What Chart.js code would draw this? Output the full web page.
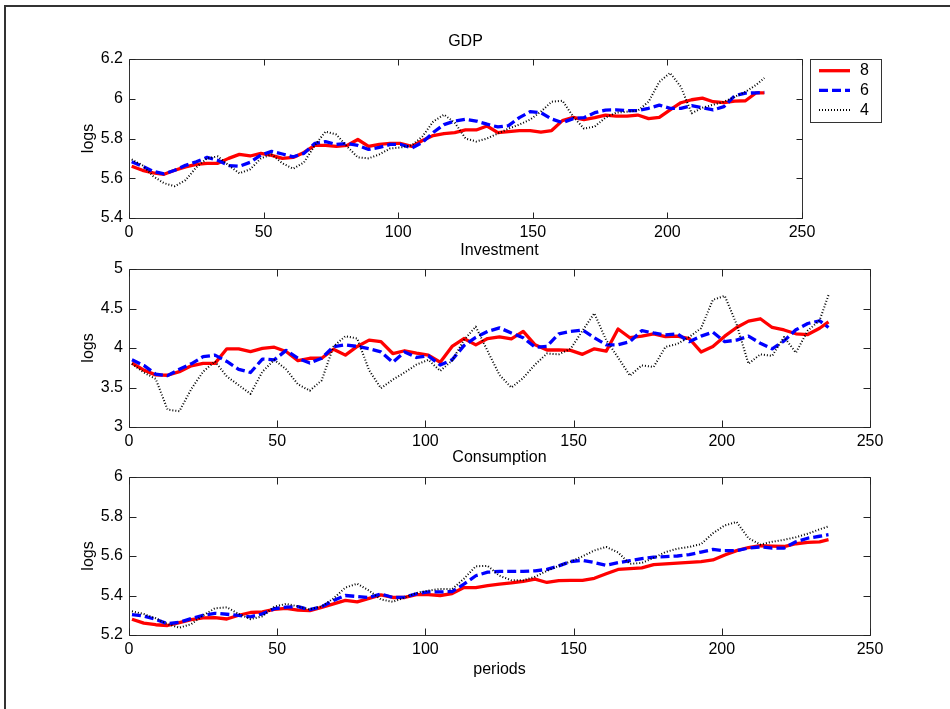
<!DOCTYPE html>
<html><head><meta charset="utf-8">
<script src="https://cdn.jsdelivr.net/npm/chart.js@4/dist/chart.umd.min.js"></script>
<style>
html,body{margin:0;padding:0;background:#fff;}
#page{position:relative;width:950px;height:709px;overflow:hidden;background:#fff;}
.frame{position:absolute;left:4px;top:5px;width:1000px;height:800px;border-left:2px solid #333;border-top:2px solid #333;}
canvas{position:absolute;left:0;top:0;}
</style></head><body>
<div id="page"><div class="frame"></div>
<canvas id="c1" width="950" height="709"></canvas>
<canvas id="c2" width="950" height="709"></canvas>
<canvas id="c3" width="950" height="709"></canvas>
</div>
<script>
const periods = [1,5,9,13,17,21,25,29,33,37,41,45,49,53,57,61,65,69,73,77,81,85,89,93,97,101,105,109,113,117,121,125,129,133,137,141,145,149,153,157,161,165,169,173,177,181,185,189,193,197,201,205,209,213,217,221,225,229,233,236];
const seriesNames = ['8','6','4'];

const gdp8 = [5.66,5.64,5.627,5.62,5.64,5.657,5.67,5.675,5.675,5.70,5.72,5.712,5.725,5.715,5.70,5.705,5.73,5.765,5.765,5.76,5.765,5.795,5.76,5.77,5.775,5.775,5.76,5.79,5.815,5.825,5.83,5.843,5.843,5.863,5.83,5.835,5.84,5.84,5.832,5.84,5.89,5.906,5.895,5.905,5.918,5.913,5.913,5.918,5.90,5.906,5.944,5.98,5.995,6.003,5.985,5.98,5.988,5.99,6.03,6.03];
const gdp6 = [5.683,5.66,5.635,5.622,5.64,5.665,5.683,5.705,5.69,5.664,5.66,5.68,5.717,5.735,5.722,5.708,5.725,5.775,5.784,5.77,5.775,5.765,5.745,5.755,5.77,5.77,5.752,5.78,5.83,5.87,5.888,5.897,5.888,5.872,5.858,5.865,5.905,5.935,5.93,5.898,5.88,5.90,5.905,5.93,5.943,5.944,5.94,5.94,5.952,5.968,5.952,5.952,5.965,5.955,5.944,5.96,6.015,6.028,6.03,6.032];
const gdp4 = [5.695,5.665,5.61,5.575,5.56,5.59,5.655,5.70,5.71,5.665,5.625,5.645,5.70,5.72,5.675,5.648,5.68,5.765,5.835,5.82,5.76,5.705,5.70,5.72,5.75,5.755,5.765,5.81,5.885,5.92,5.88,5.80,5.785,5.80,5.825,5.85,5.87,5.895,5.935,5.985,5.99,5.91,5.85,5.86,5.905,5.93,5.935,5.94,5.985,6.085,6.13,6.06,5.927,5.955,5.97,5.985,6.01,6.035,6.07,6.104];

const inv8 = [3.81,3.72,3.66,3.655,3.70,3.775,3.805,3.805,3.99,3.99,3.955,3.995,4.01,3.955,3.84,3.87,3.87,3.985,3.91,4.02,4.10,4.08,3.93,3.965,3.935,3.91,3.82,4.02,4.12,4.04,4.12,4.14,4.115,4.21,4.04,3.975,3.975,3.97,3.92,3.99,3.96,4.24,4.13,4.15,4.18,4.143,4.15,4.12,3.95,4.02,4.15,4.26,4.34,4.37,4.26,4.228,4.18,4.17,4.25,4.33];
const inv6 = [3.85,3.78,3.67,3.65,3.73,3.80,3.89,3.91,3.83,3.73,3.69,3.86,3.85,3.97,3.87,3.81,3.87,4.017,4.04,4.02,3.99,3.95,3.82,3.95,3.88,3.90,3.785,3.85,4.03,4.135,4.21,4.255,4.19,4.13,4.01,4.02,4.18,4.21,4.228,4.13,4.04,4.04,4.08,4.22,4.19,4.165,4.18,4.08,4.15,4.20,4.08,4.10,4.15,4.06,3.99,4.09,4.23,4.31,4.345,4.26];
const inv4 = [3.80,3.69,3.61,3.22,3.20,3.48,3.70,3.83,3.64,3.53,3.42,3.70,3.85,3.73,3.54,3.46,3.59,4.02,4.15,4.12,3.72,3.49,3.60,3.69,3.79,3.85,3.71,3.84,4.10,4.27,3.96,3.66,3.50,3.62,3.79,3.93,3.92,3.99,4.22,4.44,4.10,3.88,3.65,3.78,3.76,4.015,4.05,4.14,4.25,4.61,4.66,4.30,3.80,3.92,3.90,4.14,3.94,4.22,4.35,4.67];

const con8 = [5.28,5.26,5.252,5.248,5.263,5.278,5.287,5.288,5.281,5.30,5.314,5.317,5.33,5.335,5.326,5.323,5.34,5.358,5.375,5.368,5.385,5.403,5.39,5.39,5.404,5.404,5.40,5.41,5.44,5.44,5.45,5.458,5.464,5.472,5.483,5.466,5.475,5.477,5.477,5.487,5.51,5.532,5.536,5.54,5.556,5.56,5.564,5.568,5.572,5.58,5.605,5.627,5.643,5.652,5.65,5.648,5.662,5.669,5.672,5.683];
const con6 = [5.303,5.296,5.279,5.257,5.264,5.283,5.30,5.31,5.305,5.299,5.292,5.307,5.333,5.341,5.344,5.328,5.343,5.375,5.40,5.395,5.39,5.408,5.39,5.392,5.409,5.418,5.418,5.42,5.458,5.50,5.518,5.522,5.522,5.522,5.525,5.532,5.55,5.572,5.578,5.567,5.553,5.566,5.576,5.587,5.594,5.597,5.60,5.607,5.62,5.633,5.627,5.627,5.64,5.646,5.64,5.64,5.672,5.69,5.70,5.708];
const con4 = [5.32,5.306,5.285,5.255,5.237,5.255,5.30,5.335,5.34,5.307,5.28,5.295,5.343,5.358,5.345,5.33,5.345,5.385,5.44,5.46,5.425,5.38,5.368,5.39,5.413,5.425,5.433,5.432,5.485,5.548,5.55,5.50,5.477,5.477,5.495,5.525,5.55,5.572,5.598,5.628,5.646,5.618,5.56,5.565,5.59,5.62,5.637,5.646,5.66,5.715,5.755,5.772,5.69,5.658,5.672,5.682,5.695,5.713,5.735,5.75];

const xTicks = [0,50,100,150,200,250];
const xTickLabels = ['0','50','100','150','200','250'];
const gdpTicks = [5.4,5.6,5.8,6,6.2];
const gdpTickLabels = ['5.4','5.6','5.8','6','6.2'];
const invTicks = [3,3.5,4,4.5,5];
const invTickLabels = ['3','3.5','4','4.5','5'];
const conTicks = [5.2,5.4,5.6,5.8,6];
const conTickLabels = ['5.2','5.4','5.6','5.8','6'];
const panelTitles = ['GDP','Investment','Consumption'];
const yTitle = 'logs';
const xTitle = 'periods';

Chart.defaults.font.family = '"Liberation Sans", Arial, sans-serif';
Chart.defaults.font.size = 16;
Chart.defaults.color = '#000';

const styles = [
  {color:'#ff0000', width:3.3, dash:[]},
  {color:'#0000ff', width:3.3, dash:[9,4]},
  {color:'#000000', width:2, dash:[1,2]}
];

const boxPlugin = {
  id:'frameBox',
  afterDatasetsDraw(chart, args, opts){
    const {ctx, chartArea:a, scales:{x,y}} = chart;
    ctx.save();
    const L=Math.round(a.left)+0.5, R=Math.round(a.right)+0.5, T=Math.round(a.top)+0.5, B=Math.round(a.bottom)+0.5;
    ctx.strokeStyle='#333'; ctx.lineWidth=1; ctx.setLineDash([]);
    ctx.beginPath(); ctx.rect(L,T,R-L,B-T); ctx.stroke();
    const tl = opts.tickLen;
    ctx.strokeStyle='#222';
    ctx.beginPath();
    x.ticks.forEach(t=>{const px=Math.round(x.getPixelForValue(t.value))+0.5; ctx.moveTo(px,B); ctx.lineTo(px,B-tl); ctx.moveTo(px,T); ctx.lineTo(px,T+tl);});
    y.ticks.forEach(t=>{const py=Math.round(y.getPixelForValue(t.value))+0.5; ctx.moveTo(L,py); ctx.lineTo(L+tl,py); ctx.moveTo(R,py); ctx.lineTo(R-tl,py);});
    ctx.stroke();
    ctx.fillStyle='#000';
    ctx.font='16px "Liberation Sans", Arial, sans-serif';
    ctx.textAlign='center'; ctx.textBaseline='middle';
    ctx.fillText(opts.title, (a.left+a.right)/2, a.top - opts.titleGap);
    if (opts.legend) {
      const lx=810.5, ly=59.5, lw=71, lh=63;
      ctx.fillStyle='#fff'; ctx.fillRect(lx,ly,lw,lh);
      ctx.strokeStyle='#333'; ctx.lineWidth=1; ctx.strokeRect(lx,ly,lw,lh);
      chart.data.datasets.forEach((ds,i)=>{
        const yy = 70.7 + i*19.7;
        ctx.save();
        ctx.strokeStyle = ds.borderColor; ctx.lineWidth = ds.borderWidth;
        ctx.setLineDash(ds.borderDash||[]);
        ctx.beginPath(); ctx.moveTo(819, yy); ctx.lineTo(850, yy); ctx.stroke();
        ctx.restore();
        ctx.fillStyle='#000'; ctx.textAlign='left'; ctx.textBaseline='middle';
        ctx.fillText(ds.label, 860, yy);
      });
    }
    ctx.restore();
  }
};

function makeChart(id, vals, yt, yl, title, area, legend, xt){
  const PL = 79;
  const XH = xt ? 44.6 : 30;
  return new Chart(document.getElementById(id), {
    type:'line',
    data:{datasets: vals.map((v,i)=>({
      label: seriesNames[i],
      data: periods.map((p,j)=>({x:p, y:v[j]})),
      borderColor: styles[i].color, borderWidth: styles[i].width, borderDash: styles[i].dash,
      pointRadius:0, pointHoverRadius:0, fill:false, tension:0, order:3-i,
      borderCapStyle:'butt', borderJoinStyle:'round'
    }))},
    options:{
      responsive:false, animation:false, devicePixelRatio:1, events:[],
      layout:{padding:{left:PL, top:area.top, right:950-area.right, bottom:709-area.bottom-XH}},
      plugins:{
        legend:{display:false}, tooltip:{enabled:false}, title:{display:false},
        frameBox:{title:title, titleGap:area.gap, tickLen:area.tickLen, legend:legend}
      },
      scales:{
        x:{type:'linear', min:0, max:250, position:'bottom',
          afterBuildTicks:s=>{s.ticks = xTicks.map(v=>({value:v}));},
          afterFit:s=>{s.height = XH;},
          grid:{display:false, drawTicks:false}, border:{display:false},
          ticks:{color:'#000', padding:5, maxRotation:0, autoSkip:false, callback:(v,i)=>xTickLabels[i]},
          title:{display:!!xt, text:xt||'', color:'#000', padding:0}
        },
        y:{type:'linear', min:yt[0], max:yt[yt.length-1], position:'left',
          afterBuildTicks:s=>{s.ticks = yt.map(v=>({value:v}));},
          afterFit:s=>{s.width = 129-PL;},
          grid:{display:false, drawTicks:false}, border:{display:false},
          ticks:{color:'#000', padding:6, autoSkip:false, callback:(v,i)=>yl[i]},
          title:{display:true, text:yTitle, color:'#000', padding:0}
        }
      }
    },
    plugins:[boxPlugin]
  });
}

makeChart('c1', [gdp8,gdp6,gdp4], gdpTicks, gdpTickLabels, panelTitles[0], {top:59, bottom:218, right:802, tickLen:6, gap:17}, true, null);
makeChart('c2', [inv8,inv6,inv4], invTicks, invTickLabels, panelTitles[1], {top:269, bottom:427, right:870, tickLen:7, gap:18}, false, null);
makeChart('c3', [con8,con6,con4], conTicks, conTickLabels, panelTitles[2], {top:477, bottom:635, right:870, tickLen:7, gap:19.5}, false, xTitle);
</script>
</body></html>
